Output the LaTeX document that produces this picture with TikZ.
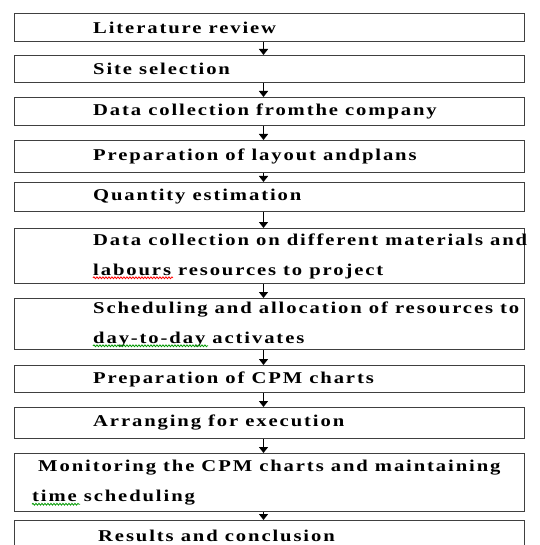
\documentclass[tikz,border=0pt]{standalone}
\usepackage{fontspec}
\setmainfont{Liberation Serif}[FakeStretch=1.25, LetterSpace=11.5]
\usepackage{tikz}
\usetikzlibrary{arrows.meta, positioning, decorations.pathmorphing}

\newcommand{\stepfont}{\bfseries\fontsize{16.5}{30}\selectfont}

\begin{document}
\begin{tikzpicture}[x=1pt, y=-1pt,
  stage/.style={draw=black!75, line width=1pt, minimum width=510pt, anchor=north west, inner sep=0pt},
  steptext/.style={anchor=west, inner sep=0pt, align=left, font=\stepfont},
  flow/.style={line width=1.3pt, -{Triangle[length=6pt, width=9pt]}},
  spell/.style={line width=0.8pt, decorate, decoration={snake, amplitude=0.9pt, segment length=3pt}}]
  \useasboundingbox (0,0) rectangle (539,545);

  % boxes
  \node[stage, minimum height=28pt] (s1) at (14,13) {};
  \node[stage, minimum height=27pt] (s2) at (14,55) {};
  \node[stage, minimum height=28pt] (s3) at (14,97) {};
  \node[stage, minimum height=32pt] (s4) at (14,140) {};
  \node[stage, minimum height=29pt] (s5) at (14,182) {};
  \node[stage, minimum height=55pt] (s6) at (14,228) {};
  \node[stage, minimum height=51pt] (s7) at (14,298) {};
  \node[stage, minimum height=27pt] (s8) at (14,365) {};
  \node[stage, minimum height=31pt] (s9) at (14,407) {};
  \node[stage, minimum height=58pt] (s10) at (14,453) {};
  \node[stage, minimum height=30pt] (s11) at (14,520) {};

  % texts
  \node[steptext, right=79pt of s1.west] (t1) {Literature review};
  \node[steptext, right=79pt of s2.west] (t2) {Site selection};
  \node[steptext, right=79pt of s3.west] (t3) {Data collection fromthe company};
  \node[steptext, right=79pt of s4.west] (t4) {Preparation of layout andplans};
  \node[steptext, right=79pt of s5.west] (t5) {Quantity estimation};
  \node[steptext, right=79pt of s6.west] (t6) {Data collection on different materials and\\labours resources to project};
  \node[steptext, right=79pt of s7.west] (t7) {Scheduling and allocation of resources to\\day-to-day activates};
  \node[steptext, right=79pt of s8.west] (t8) {Preparation of CPM charts};
  \node[steptext, right=79pt of s9.west] (t9) {Arranging for execution};
  \node[steptext, right=18pt of s10.west] (t10) {\hspace*{6pt}Monitoring the CPM charts and maintaining\\time scheduling};
  \node[steptext, right=84pt of s11.west] (t11) {Results and conclusion};

  % spelling marks
  \draw[spell, red] ([yshift=1pt]t6.south west) -- ([xshift=80pt, yshift=1pt]t6.south west);
  \draw[spell, green!60!black] ([yshift=1pt]t7.south west) -- ([xshift=115pt, yshift=1pt]t7.south west);
  \draw[spell, green!60!black] ([yshift=1pt]t10.south west) -- ([xshift=48pt, yshift=1pt]t10.south west);

  % arrows
  \foreach \a/\b in {s1/s2, s2/s3, s3/s4, s4/s5, s5/s6, s6/s7, s7/s8, s8/s9, s9/s10, s10/s11}
    \draw[flow] ([xshift=-6pt]\a.south) -- ([xshift=-6pt]\b.north);
\end{tikzpicture}
\end{document}
